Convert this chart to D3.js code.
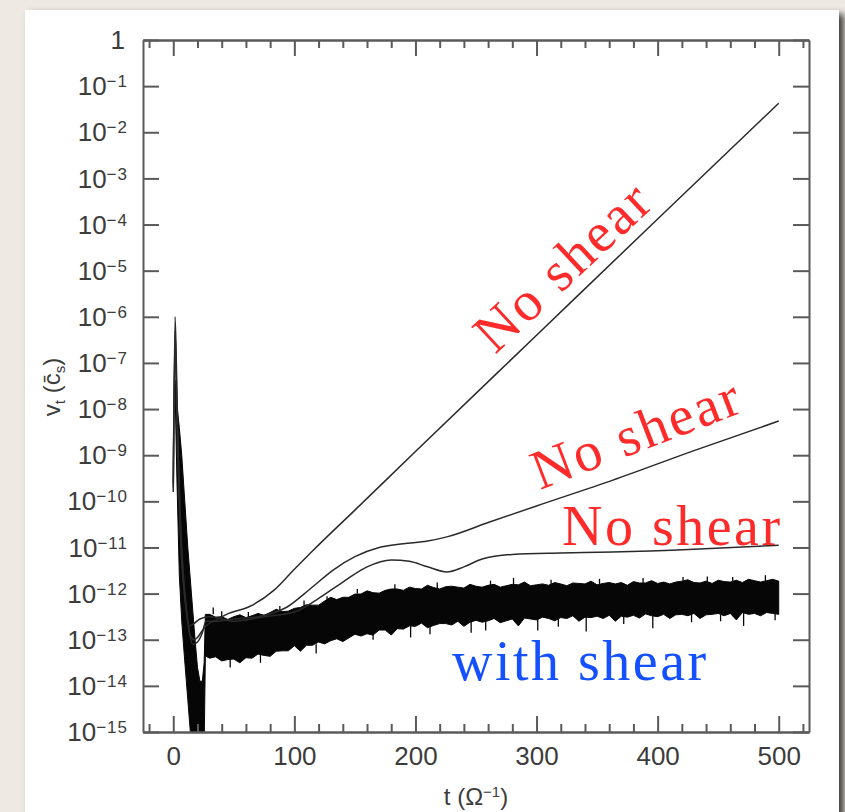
<!DOCTYPE html>
<meta charset="utf-8">
<style>
body { margin: 0; background: #eeeae3; }
svg { display: block; }
.tick text, .ylab, .xtitle, .ytitle { font-family: "Liberation Sans", sans-serif; fill: #3c3c3c; }
.tick text { font-size: 26px; }
.axis path, .axis line { stroke: #5a5a5a; stroke-width: 2; }
.note { font-family: "Liberation Serif", serif; font-size: 56px; letter-spacing: 2.5px; }
</style>
<body>
<script src="https://cdn.jsdelivr.net/npm/d3@7"></script>
<script>

// time ticks
var xMajor = [0, 100, 200, 300, 400, 500];
var xMinor = [-20, 20, 40, 60, 80, 120, 140, 160, 180, 220, 240, 260, 280, 320, 340, 360, 380, 420, 440, 460, 480, 520];
// decades on the y axis (exponents)
var yExp = [0, -1, -2, -3, -4, -5, -6, -7, -8, -9, -10, -11, -12, -13, -14, -15];

// curves without shear, [t, log10 v]
var lineA = [[0,-9.8],[1.5,-6.0],[3,-7.6],[4.5,-9.4],[6,-10.6],[8,-11.6],[11,-12.4],[14,-12.9],[17,-13.0],[20,-12.95],[24,-12.8],[28,-12.68],[35,-12.58],[44,-12.45],[63,-12.28],[83,-11.93],[99,-11.5],[116,-11.05],[150,-10.19],[200,-8.92],[300,-6.4],[400,-3.88],[500,-1.37]];
var lineB = [[0,-9.6],[1.5,-6.3],[3,-7.9],[5,-9.8],[7,-11.0],[10,-12.1],[13,-12.8],[16,-13.1],[20,-13.05],[24,-12.85],[27,-12.6],[35,-12.6],[50,-12.55],[70,-12.5],[94,-12.29],[113,-11.9],[132,-11.49],[150,-11.2],[170,-11.0],[190,-10.92],[210,-10.86],[226,-10.77],[260,-10.46],[300,-10.1],[363,-9.54],[430,-8.9],[500,-8.26]];
var lineC = [[0,-9.7],[1.5,-6.6],[3,-8.2],[5,-10.1],[7,-11.3],[10,-12.2],[13,-12.7],[17,-12.65],[22,-12.55],[30,-12.5],[50,-12.6],[75,-12.5],[100,-12.4],[118,-12.14],[140,-11.75],[160,-11.42],[180,-11.27],[195,-11.3],[210,-11.42],[226,-11.53],[240,-11.42],[255,-11.25],[280,-11.15],[320,-11.12],[363,-11.1],[430,-11.04],[500,-10.95]];

// with shear: noisy band, upper and lower edge (log10 v)
var bandT = [1.4,3,5,7,9,12,15,18,20,22,24,25.5,26.5,30,35,40,45,50,55,60,65,70,75,80,85,90,95,100,105,110,115,120,125,130,135,140,145,150,155,160,165,170,175,180,185,190,195,200,205,210,215,220,225,230,235,240,245,250,255,260,265,270,275,280,285,290,295,300,305,310,315,320,325,330,335,340,345,350,355,360,365,370,375,380,385,390,395,400,405,410,415,420,425,430,435,440,445,450,455,460,465,470,475,480,485,490,495,500];
var bandTop = [-7.37,-7.9,-8.4,-9.0,-9.8,-11.0,-12.0,-13.0,-13.6,-13.9,-13.9,-13.5,-12.45,
  -12.45,-12.51,-12.50,-12.56,-12.50,-12.46,-12.52,-12.48,-12.43,-12.47,-12.41,-12.34,-12.39,-12.38,-12.32,-12.30,-12.24,-12.25,-12.25,-12.16,-12.08,-12.13,-12.08,-12.08,-12.01,-12.01,-11.94,-11.98,-11.99,-11.93,-11.90,-11.90,-11.93,-11.86,-11.89,
  -11.90,-11.82,-11.87,-11.90,-11.85,-11.84,-11.86,-11.88,-11.80,-11.84,-11.86,-11.82,-11.80,-11.86,-11.83,-11.80,-11.81,-11.75,-11.83,-11.81,
  -11.79,-11.82,-11.76,-11.79,-11.83,-11.77,-11.78,-11.79,-11.73,-11.81,-11.78,-11.76,-11.79,-11.76,-11.82,-11.74,-11.77,-11.77,-11.72,-11.78,
  -11.75,-11.79,-11.75,-11.73,-11.70,-11.76,-11.77,-11.73,-11.78,-11.71,-11.74,-11.75,-11.71,-11.76,-11.69,-11.72,-11.75,-11.72,-11.69,-11.73];
var bandBottom = [-7.45,-9.5,-11.6,-12.6,-13.3,-14.3,-15.3,-15.3,-15.3,-15.3,-15.3,-15.3,-13.35,
  -13.40,-13.37,-13.46,-13.43,-13.42,-13.50,-13.39,-13.40,-13.31,-13.34,-13.36,-13.25,-13.24,-13.24,-13.13,-13.25,-13.12,-13.12,-13.05,-13.09,-13.02,-12.98,-13.04,-12.96,-12.88,-12.92,-12.87,-12.90,-12.79,-12.79,-12.90,-12.76,-12.77,-12.70,-12.71,
  -12.64,-12.74,-12.69,-12.65,-12.65,-12.68,-12.60,-12.71,-12.62,-12.58,-12.62,-12.59,-12.54,-12.63,-12.59,-12.55,-12.70,-12.53,-12.55,-12.57,
  -12.51,-12.54,-12.59,-12.52,-12.54,-12.48,-12.60,-12.51,-12.52,-12.49,-12.54,-12.47,-12.60,-12.49,-12.51,-12.47,-12.53,-12.44,-12.48,-12.50,
  -12.45,-12.54,-12.46,-12.45,-12.48,-12.43,-12.54,-12.46,-12.45,-12.43,-12.48,-12.43,-12.57,-12.41,-12.45,-12.43,-12.48,-12.41,-12.43,-12.45];
// sharp noise hairs on the band edges, [t, from, to]
var spikes = [[33,-12.45,-12.3],[40,-12.5,-12.38],[47,-13.3,-13.6],[62,-12.5,-12.4],[72,-13.3,-13.5],[88,-12.38,-12.27],[108,-12.3,-12.15],[118,-13.1,-13.3],[127,-12.17,-12.06],[152,-12.0,-11.9],[165,-12.8,-13.0],[183,-11.92,-11.8],[196,-12.6,-12.95],[212,-12.7,-12.88],[218,-11.88,-11.76],[246,-12.5,-12.85],[258,-12.6,-12.8],[262,-11.83,-11.72],[281,-11.85,-11.66],[301,-12.5,-12.8],[312,-11.8,-11.7],[318,-12.55,-12.72],[341,-12.4,-12.82],[352,-11.79,-11.68],[372,-12.5,-12.66],[388,-11.77,-11.66],[396,-12.4,-12.75],[421,-11.8,-11.64],[428,-12.45,-12.62],[441,-11.75,-11.63],[452,-12.45,-12.6],[462,-11.74,-11.64],[471,-12.4,-12.7],[489,-11.75,-11.6],[497,-12.43,-12.58]];

var width = 845,
    height = 812;

var svg = d3.select("body").append("svg")
    .attr("width", width)
    .attr("height", height);

var defs = svg.append("defs");
defs.append("filter").attr("id", "shadow")
    .attr("x", "-5%").attr("y", "-5%").attr("width", "115%").attr("height", "115%")
  .append("feDropShadow")
    .attr("dx", 5).attr("dy", 4).attr("stdDeviation", 3.5)
    .attr("flood-color", "#000").attr("flood-opacity", 0.75);

// white card
svg.append("rect")
    .attr("x", 25).attr("y", 10)
    .attr("width", 814).attr("height", 830)
    .attr("fill", "#fff")
    .attr("filter", "url(#shadow)");

// plot frame (note: "top" is a reserved window name, so use px*)
var pxL = 143, pxR = 809, pxT = 40, pxB = 732;

var x = d3.scaleLinear().domain([-25, 525]).range([pxL, pxR]);
var y = d3.scaleLog().domain([1e-15, 1]).range([pxB, pxT]);

defs.append("clipPath").attr("id", "plot")
  .append("rect")
    .attr("x", pxL).attr("y", pxT)
    .attr("width", pxR - pxL).attr("height", pxB - pxT);

var plot = svg.append("g").attr("clip-path", "url(#plot)");

// with shear band
var band = bandT.map(function(t, i) { return [t, bandTop[i], bandBottom[i]]; });
plot.append("path")
    .datum(band)
    .attr("fill", "#060606")
    .attr("stroke", "#060606")
    .attr("stroke-width", 1)
    .attr("stroke-linejoin", "miter")
    .attr("d", d3.area()
      .x(function(d) { return x(d[0]); })
      .y0(function(d) { return y(Math.pow(10, d[2])); })
      .y1(function(d) { return y(Math.pow(10, d[1])); }));

plot.selectAll(".spike")
    .data(spikes)
  .enter().append("line")
    .attr("class", "spike")
    .attr("x1", function(d) { return x(d[0]); })
    .attr("x2", function(d) { return x(d[0]); })
    .attr("y1", function(d) { return y(Math.pow(10, d[1])); })
    .attr("y2", function(d) { return y(Math.pow(10, d[2])); })
    .attr("stroke", "#060606")
    .attr("stroke-width", 1.3);

// no shear curves
var line = d3.line()
    .x(function(d) { return x(d[0]); })
    .y(function(d) { return y(Math.pow(10, d[1])); })
    .curve(d3.curveMonotoneX);

plot.selectAll(".curve")
    .data([lineA, lineB, lineC])
  .enter().append("path")
    .attr("class", "curve")
    .attr("fill", "none")
    .attr("stroke", "#2a2a2a")
    .attr("stroke-width", 1.5)
    .attr("d", line);

// axes, ticks point inward
var tens = yExp.map(function(e) { return Math.pow(10, e); });

svg.append("g").attr("class", "axis")
    .attr("transform", "translate(0," + pxB + ")")
    .call(d3.axisBottom(x).tickValues(xMinor).tickSize(-8).tickSizeOuter(0).tickFormat(""));
svg.append("g").attr("class", "axis")
    .attr("transform", "translate(0," + pxB + ")")
    .call(d3.axisBottom(x).tickValues(xMajor).tickSize(-16).tickSizeOuter(0).tickPadding(15).tickFormat(d3.format("d")));
svg.append("g").attr("class", "axis")
    .attr("transform", "translate(0," + pxT + ")")
    .call(d3.axisTop(x).tickValues(xMinor).tickSize(-8).tickSizeOuter(0).tickFormat(""));
svg.append("g").attr("class", "axis")
    .attr("transform", "translate(0," + pxT + ")")
    .call(d3.axisTop(x).tickValues(xMajor).tickSize(-16).tickSizeOuter(0).tickFormat(""));
svg.append("g").attr("class", "axis")
    .attr("transform", "translate(" + pxL + ",0)")
    .call(d3.axisLeft(y).tickValues(tens).tickSize(-16).tickSizeOuter(0).tickFormat(""));
svg.append("g").attr("class", "axis")
    .attr("transform", "translate(" + pxR + ",0)")
    .call(d3.axisRight(y).tickValues(tens).tickSize(-16).tickSizeOuter(0).tickFormat(""));

// y tick labels as 10^-n
var ylab = svg.selectAll(".ylab")
    .data(yExp)
  .enter().append("text")
    .attr("class", "ylab")
    .attr("x", function(d) { return d === 0 ? 125 : 128; })
    .attr("y", function(d) { return y(Math.pow(10, d)); })
    .attr("dy", "0.35em")
    .attr("text-anchor", "end")
    .style("font-size", "26px");

ylab.filter(function(d) { return d === 0; }).text("1");
ylab.filter(function(d) { return d !== 0; })
    .append("tspan").text("10");
ylab.filter(function(d) { return d !== 0; })
    .append("tspan")
    .attr("dy", -8)
    .style("font-size", "17px")
    .style("letter-spacing", "1px")
    .text(function(d) { return "\u2212" + (-d); });

// axis titles
var xt = svg.append("text")
    .attr("class", "xtitle")
    .attr("x", 476).attr("y", 805)
    .attr("text-anchor", "middle")
    .style("font-size", "24px");
xt.append("tspan").text("t  (\u03A9");
xt.append("tspan").attr("dy", -8).style("font-size", "15px").text("\u22121");
xt.append("tspan").attr("dy", 8).text(")");

var yt = svg.append("text")
    .attr("class", "ytitle")
    .attr("transform", "translate(60,387) rotate(-90)")
    .attr("text-anchor", "middle")
    .style("font-size", "24px");
yt.append("tspan").text("v");
yt.append("tspan").attr("dy", 5).style("font-size", "15px").text("t");
yt.append("tspan").attr("dy", -5).text("  (c\u0304");
yt.append("tspan").attr("dy", 5).style("font-size", "15px").text("s");
yt.append("tspan").attr("dy", -5).text(")");

// annotations
svg.append("text").attr("class", "note")
    .attr("transform", "translate(495,355) rotate(-43)")
    .attr("fill", "#ff2a2a")
    .text("No shear");
svg.append("text").attr("class", "note")
    .attr("transform", "translate(540,490) rotate(-21)")
    .attr("fill", "#ff2a2a")
    .text("No shear");
svg.append("text").attr("class", "note")
    .attr("x", 562).attr("y", 545)
    .attr("fill", "#ff2a2a")
    .text("No shear");
svg.append("text").attr("class", "note")
    .attr("x", 452).attr("y", 680)
    .attr("fill", "#1450ff")
    .text("with shear");

</script>
</body>
